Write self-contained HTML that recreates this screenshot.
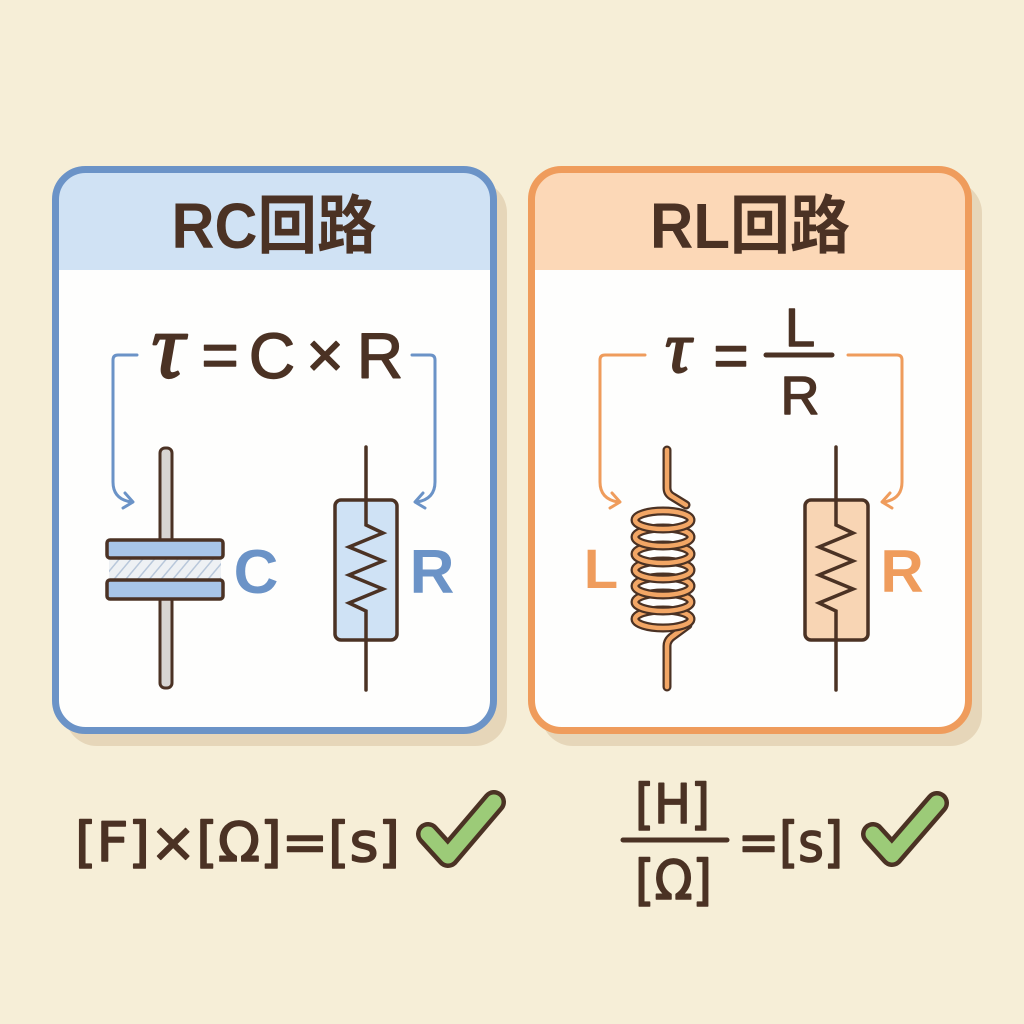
<!DOCTYPE html>
<html>
<head>
<meta charset="utf-8">
<style>
  html,body{margin:0;padding:0;background:#f6eed7;}
  svg{display:block;}
  .br{fill:#4b3224;}
  .tt{font-family:"Liberation Sans","Noto Sans CJK JP",sans-serif;font-weight:bold;}
  .f{font-family:"Liberation Sans","DejaVu Sans",sans-serif;fill:#4b3224;stroke:#4b3224;stroke-width:1.4;stroke-linejoin:round;}
  .tau{font-family:"Liberation Serif","DejaVu Serif",serif;font-style:italic;fill:#4b3224;stroke:#4b3224;stroke-width:2.2;stroke-linejoin:round;}
  .u{font-family:"DejaVu Sans","Liberation Sans",sans-serif;fill:#4b3224;stroke:#4b3224;stroke-width:1.6;stroke-linejoin:round;}
</style>
</head>
<body>
<svg width="1024" height="1024" viewBox="0 0 1024 1024" xmlns="http://www.w3.org/2000/svg">
  <defs>
    <clipPath id="c1"><rect x="55.5" y="169.5" width="438" height="561" rx="30"/></clipPath>
    <clipPath id="c2"><rect x="531.5" y="169.5" width="437" height="561" rx="30"/></clipPath>
    <pattern id="hatch" width="9" height="9" patternUnits="userSpaceOnUse" patternTransform="rotate(40)">
      <rect width="9" height="9" fill="#eef1f4"/>
      <line x1="0" y1="0" x2="0" y2="9" stroke="#b8c7da" stroke-width="3"/>
    </pattern>
  </defs>

  <rect width="1024" height="1024" fill="#f6eed7"/>

  <!-- shadows -->
  <rect x="65" y="181" width="442" height="565" rx="32" fill="#e6d6b9"/>
  <rect x="541" y="181" width="441" height="565" rx="32" fill="#e6d6b9"/>

  <!-- LEFT PANEL -->
  <rect x="55.5" y="169.5" width="438" height="561" rx="30" fill="#fefefd"/>
  <g clip-path="url(#c1)">
    <rect x="50" y="160" width="450" height="110" fill="#d0e2f4"/>
  </g>
  <rect x="55.5" y="169.5" width="438" height="561" rx="30" fill="none" stroke="#6b93c7" stroke-width="7"/>

  <text class="tt br" x="274" y="248" font-size="64" text-anchor="middle" textLength="205" lengthAdjust="spacingAndGlyphs">RC回路</text>

  <!-- formula τ = C × R -->
  <text class="tau" x="168" y="377" font-size="92" text-anchor="middle">τ</text>
  <text class="f" x="220" y="377" font-size="64" text-anchor="middle">=</text>
  <text class="f" x="272" y="378" font-size="64" text-anchor="middle">C</text>
  <text class="f" x="325" y="377" font-size="64" text-anchor="middle">×</text>
  <text class="f" x="380" y="378" font-size="64" text-anchor="middle">R</text>

  <!-- blue brackets -->
  <g fill="none" stroke="#6b93c7" stroke-width="3" stroke-linecap="round" stroke-linejoin="round">
    <path d="M137,355 H118 Q113,355 113,360 V482 Q113,499 131,502"/>
    <path d="M125,493 L133,502 L123,508"/>
    <path d="M412,355 H430 Q435,355 435,360 V482 Q435,499 417,502"/>
    <path d="M423,493 L415,502 L425,508"/>
  </g>

  <!-- capacitor -->
  <rect x="160" y="448" width="12" height="240" rx="5" fill="#d8d5d2" stroke="#4b3224" stroke-width="3"/>
  <rect x="109" y="558" width="112" height="21" fill="url(#hatch)"/>
  <rect x="107" y="540" width="116" height="18" rx="3" fill="#a8c5e8" stroke="#4b3224" stroke-width="3.5"/>
  <rect x="107" y="580" width="116" height="19" rx="3" fill="#a8c5e8" stroke="#4b3224" stroke-width="3.5"/>
  <text class="tt" x="256" y="593" font-size="62" fill="#6b93c7" text-anchor="middle">C</text>

  <!-- resistor left -->
  <rect x="335" y="500" width="62" height="140" rx="6" fill="#cfe2f5" stroke="#4b3224" stroke-width="3.5"/>
  <path d="M366,447 V525 L383,533 L349,547 L383,561 L349,575 L383,589 L349,603 L366,611 V690" fill="none" stroke="#4b3224" stroke-width="3.5" stroke-linejoin="miter" stroke-linecap="round"/>
  <text class="tt" x="432" y="593" font-size="62" fill="#6b93c7" text-anchor="middle">R</text>

  <!-- RIGHT PANEL -->
  <rect x="531.5" y="169.5" width="437" height="561" rx="30" fill="#fefefd"/>
  <g clip-path="url(#c2)">
    <rect x="525" y="160" width="450" height="110" fill="#fcd8b7"/>
  </g>
  <rect x="531.5" y="169.5" width="437" height="561" rx="30" fill="none" stroke="#ef9c5c" stroke-width="7"/>

  <text class="tt br" x="750" y="248" font-size="64" text-anchor="middle" textLength="200" lengthAdjust="spacingAndGlyphs">RL回路</text>

  <!-- formula τ = L/R -->
  <text class="tau" x="678" y="372" font-size="72" text-anchor="middle">τ</text>
  <text class="f" x="731" y="376" font-size="60" text-anchor="middle">=</text>
  <text class="f" x="800" y="346" font-size="54" text-anchor="middle">L</text>
  <line x1="766" y1="355" x2="832" y2="355" stroke="#4b3224" stroke-width="5" stroke-linecap="round"/>
  <text class="f" x="800" y="414" font-size="54" text-anchor="middle">R</text>

  <!-- orange brackets -->
  <g fill="none" stroke="#ef9c5c" stroke-width="3" stroke-linecap="round" stroke-linejoin="round">
    <path d="M645,355 H605 Q600,355 600,360 V482 Q600,499 618,502"/>
    <path d="M612,493 L620,502 L610,508"/>
    <path d="M848,355 H897 Q902,355 902,360 V482 Q902,499 884,502"/>
    <path d="M890,493 L882,502 L892,508"/>
  </g>

  <!-- inductor -->
  <g fill="none" stroke-linecap="round" stroke-linejoin="round">
    <path d="M667,450 V488 Q667,494 673,497 L686,505" stroke="#4b3224" stroke-width="9"/>
    <path d="M667,450 V488 Q667,494 673,497 L686,505" stroke="#f2a665" stroke-width="4.5"/>
    <path d="M688,625 L673,636 Q667,640 667,646 V687" stroke="#4b3224" stroke-width="9"/>
    <path d="M688,625 L673,636 Q667,640 667,646 V687" stroke="#f2a665" stroke-width="4.5"/>
    <ellipse cx="663" cy="619" rx="28" ry="9" stroke="#4b3224" stroke-width="9"/>
    <ellipse cx="663" cy="619" rx="28" ry="9" stroke="#f2a665" stroke-width="4.5"/>
    <ellipse cx="663" cy="602" rx="28" ry="9" stroke="#4b3224" stroke-width="9"/>
    <ellipse cx="663" cy="602" rx="28" ry="9" stroke="#f2a665" stroke-width="4.5"/>
    <ellipse cx="663" cy="586" rx="28" ry="9" stroke="#4b3224" stroke-width="9"/>
    <ellipse cx="663" cy="586" rx="28" ry="9" stroke="#f2a665" stroke-width="4.5"/>
    <ellipse cx="663" cy="570" rx="28" ry="9" stroke="#4b3224" stroke-width="9"/>
    <ellipse cx="663" cy="570" rx="28" ry="9" stroke="#f2a665" stroke-width="4.5"/>
    <ellipse cx="663" cy="554" rx="28" ry="9" stroke="#4b3224" stroke-width="9"/>
    <ellipse cx="663" cy="554" rx="28" ry="9" stroke="#f2a665" stroke-width="4.5"/>
    <ellipse cx="663" cy="537" rx="28" ry="9" stroke="#4b3224" stroke-width="9"/>
    <ellipse cx="663" cy="537" rx="28" ry="9" stroke="#f2a665" stroke-width="4.5"/>
    <ellipse cx="663" cy="520" rx="28" ry="9" stroke="#4b3224" stroke-width="9"/>
    <ellipse cx="663" cy="520" rx="28" ry="9" stroke="#f2a665" stroke-width="4.5"/>
  </g>
  <text class="tt" x="601" y="588" font-size="56" fill="#ef9c5c" text-anchor="middle">L</text>

  <!-- resistor right -->
  <rect x="805" y="500" width="63" height="140" rx="6" fill="#f8d5b4" stroke="#4b3224" stroke-width="3.5"/>
  <path d="M836,447 V525 L853,533 L819,547 L853,561 L819,575 L853,589 L819,603 L836,611 V690" fill="none" stroke="#4b3224" stroke-width="3.5" stroke-linejoin="miter" stroke-linecap="round"/>
  <text class="tt" x="902" y="592" font-size="60" fill="#ef9c5c" text-anchor="middle">R</text>

  <!-- bottom formulas -->
  <text class="u" x="75" y="861" font-size="54" textLength="325" lengthAdjust="spacingAndGlyphs">[F]×[Ω]=[s]</text>
  <g fill="none" stroke-linecap="round" stroke-linejoin="round">
    <polyline points="428,834 448,856 494,802" stroke="#4b3224" stroke-width="24"/>
    <polyline points="428,834 448,856 494,802" stroke="#9ccb78" stroke-width="15"/>
  </g>

  <text class="u" x="635" y="823" font-size="54" textLength="75" lengthAdjust="spacingAndGlyphs">[H]</text>
  <line x1="623" y1="840" x2="727" y2="840" stroke="#4b3224" stroke-width="5" stroke-linecap="round"/>
  <text class="u" x="635" y="899" font-size="54" textLength="77" lengthAdjust="spacingAndGlyphs">[Ω]</text>
  <text class="u" x="738" y="861" font-size="54" textLength="105" lengthAdjust="spacingAndGlyphs">=[s]</text>
  <g fill="none" stroke-linecap="round" stroke-linejoin="round">
    <polyline points="873,834 892,855 937,803" stroke="#4b3224" stroke-width="24"/>
    <polyline points="873,834 892,855 937,803" stroke="#9ccb78" stroke-width="15"/>
  </g>
</svg>
</body>
</html>
